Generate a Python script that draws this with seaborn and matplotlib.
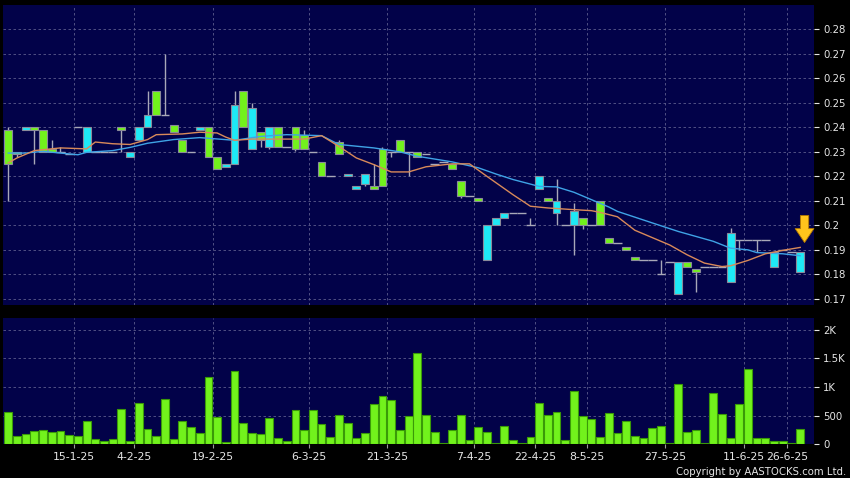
#!/usr/bin/env python3
"""Daily candlestick + volume chart, AASTOCKS style (dark navy panels)."""

import matplotlib
matplotlib.use("Agg")
import matplotlib.pyplot as plt
import numpy as np
import pandas as pd
import seaborn as sns

# ---- data (one entry per trading day, left to right) ----
OPEN = [
    0.239, 0.230, 0.239, 0.240, 0.239, 0.231, 0.230, 0.229, 0.240, 0.230,
    0.230, 0.230, 0.230, 0.240, 0.228, 0.235, 0.240, 0.255, 0.245, 0.241,
    0.235, 0.230, 0.239, 0.240, 0.228, 0.224, 0.225, 0.255, 0.231, 0.238,
    0.232, 0.240, 0.232, 0.240, 0.237, 0.230, 0.226, 0.220, 0.234, 0.220,
    0.215, 0.217, 0.216, 0.231, 0.230, 0.235, 0.230, 0.230, 0.229, 0.225,
    0.226, 0.225, 0.218, 0.212, 0.211, 0.186, 0.200, 0.203, 0.205, 0.205,
    0.200, 0.215, 0.211, 0.205, 0.200, 0.200, 0.203, 0.200, 0.210, 0.195,
    0.193, 0.191, 0.187, 0.186, 0.186, 0.180, 0.185, 0.172, 0.185, 0.182,
    0.183, 0.183, 0.183, 0.177, 0.194, 0.194, 0.194, 0.194, 0.183, 0.190,
    0.189, 0.181,
]
HIGH = [
    0.240, 0.230, 0.240, 0.240, 0.239, 0.235, 0.232, 0.229, 0.240, 0.240,
    0.230, 0.230, 0.230, 0.240, 0.230, 0.240, 0.255, 0.255, 0.270, 0.241,
    0.235, 0.230, 0.240, 0.240, 0.228, 0.225, 0.255, 0.255, 0.250, 0.238,
    0.240, 0.240, 0.232, 0.240, 0.239, 0.230, 0.226, 0.220, 0.235, 0.221,
    0.216, 0.221, 0.225, 0.232, 0.230, 0.235, 0.230, 0.230, 0.229, 0.225,
    0.226, 0.225, 0.218, 0.212, 0.211, 0.200, 0.203, 0.205, 0.205, 0.205,
    0.203, 0.220, 0.211, 0.219, 0.200, 0.209, 0.203, 0.200, 0.210, 0.195,
    0.193, 0.191, 0.187, 0.186, 0.186, 0.186, 0.185, 0.185, 0.185, 0.182,
    0.183, 0.183, 0.183, 0.199, 0.194, 0.194, 0.194, 0.194, 0.189, 0.190,
    0.189, 0.189,
]
LOW = [
    0.210, 0.228, 0.239, 0.225, 0.230, 0.230, 0.230, 0.229, 0.240, 0.230,
    0.230, 0.230, 0.230, 0.230, 0.228, 0.235, 0.240, 0.245, 0.245, 0.238,
    0.230, 0.230, 0.239, 0.228, 0.223, 0.224, 0.225, 0.240, 0.231, 0.232,
    0.231, 0.232, 0.232, 0.2305, 0.231, 0.230, 0.220, 0.220, 0.229, 0.220,
    0.215, 0.216, 0.215, 0.216, 0.228, 0.230, 0.220, 0.228, 0.229, 0.225,
    0.226, 0.223, 0.211, 0.212, 0.210, 0.186, 0.200, 0.203, 0.205, 0.205,
    0.200, 0.215, 0.210, 0.200, 0.200, 0.188, 0.1985, 0.200, 0.200, 0.193,
    0.193, 0.190, 0.186, 0.186, 0.186, 0.180, 0.185, 0.172, 0.183, 0.173,
    0.183, 0.183, 0.183, 0.177, 0.190, 0.194, 0.189, 0.194, 0.183, 0.190,
    0.189, 0.181,
]
CLOSE = [
    0.225, 0.229, 0.240, 0.239, 0.230, 0.230, 0.230, 0.229, 0.240, 0.240,
    0.230, 0.230, 0.230, 0.239, 0.230, 0.240, 0.245, 0.245, 0.245, 0.238,
    0.230, 0.230, 0.240, 0.228, 0.223, 0.225, 0.249, 0.240, 0.248, 0.235,
    0.240, 0.232, 0.232, 0.231, 0.231, 0.230, 0.220, 0.220, 0.229, 0.221,
    0.216, 0.221, 0.215, 0.216, 0.230, 0.230, 0.230, 0.228, 0.229, 0.225,
    0.226, 0.223, 0.212, 0.212, 0.210, 0.200, 0.203, 0.205, 0.205, 0.205,
    0.200, 0.220, 0.210, 0.210, 0.200, 0.206, 0.200, 0.200, 0.200, 0.193,
    0.193, 0.190, 0.186, 0.186, 0.186, 0.180, 0.185, 0.185, 0.183, 0.181,
    0.183, 0.183, 0.183, 0.197, 0.194, 0.194, 0.194, 0.194, 0.189, 0.190,
    0.189, 0.189,
]
VOLUME = [
    558, 142, 184, 225, 242, 207, 225, 166, 149, 412,
    90, 49, 84, 622, 49, 728, 272, 142, 786, 90,
    405, 307, 189, 1172, 470, 32, 1282, 370, 195, 172,
    465, 107, 61, 588, 254, 605, 353, 125, 505, 365,
    114, 195, 704, 844, 768, 247, 488, 1605, 505, 219,
    20, 247, 505, 67, 307, 207, 20, 324, 67, 20,
    131, 728, 505, 570, 67, 926, 488, 430, 125, 546,
    189, 405, 149, 107, 289, 312, 20, 1049, 207, 247,
    20, 891, 528, 107, 710, 1307, 100, 107, 61, 61,
    20, 265,
]

# moving averages, sampled off the chart at these day positions
MA10_DAY = [0, 1, 3, 6, 9, 10, 12, 14, 16, 17, 20, 22, 24, 25, 26, 28, 31, 34,
            36, 38, 40, 42, 44, 46, 48, 51, 53, 55, 58, 60, 62, 65, 67, 68, 70,
            72, 74, 76, 78, 80, 82, 83, 85, 87, 89, 91]
MA10 = [0.2255, 0.2275, 0.2305, 0.2316, 0.2312, 0.2340, 0.2333, 0.2330, 0.2350,
        0.2370, 0.2373, 0.2380, 0.2377, 0.2360, 0.2347, 0.2352, 0.2352, 0.2352,
        0.2366, 0.2322, 0.2275, 0.2248, 0.2218, 0.2218, 0.2239, 0.2251, 0.2251,
        0.2200, 0.2125, 0.2078, 0.2071, 0.2064, 0.2060, 0.2053, 0.2035, 0.1980,
        0.1950, 0.1920, 0.1880, 0.1846, 0.1832, 0.1835, 0.1857, 0.1884, 0.1898,
        0.1910]
MA20_DAY = [0, 2, 4, 6, 8, 9, 12, 14, 16, 19, 22, 26, 29, 32, 36, 38, 42, 45,
            47, 51, 54, 56, 58, 61, 63, 65, 67, 69, 70, 74, 77, 81, 83, 85, 86,
            89, 91]
MA20 = [0.2295, 0.2295, 0.2302, 0.2295, 0.2288, 0.2298, 0.2305, 0.2318, 0.2335,
        0.2350, 0.2358, 0.2347, 0.2363, 0.2370, 0.2366, 0.2330, 0.2316, 0.2300,
        0.2282, 0.2259, 0.2235, 0.2210, 0.2187, 0.2159, 0.2157, 0.2135, 0.2105,
        0.2075, 0.2057, 0.2010, 0.1975, 0.1935, 0.1907, 0.1900, 0.1889, 0.1884,
        0.1876]

DATE_LABELS = ["15-1-25", "4-2-25", "19-2-25", "6-3-25", "21-3-25", "7-4-25",
               "22-4-25", "8-5-25", "27-5-25", "11-6-25", "26-6-25"]
DATE_DAY = [7, 14, 23, 34, 43, 53, 60, 66, 75, 84, 89]

PRICE_TICKS = [0.17, 0.18, 0.19, 0.20, 0.21, 0.22, 0.23, 0.24, 0.25, 0.26, 0.27, 0.28]
VOL_TICKS = [0, 500, 1000, 1500, 2000]
VOL_LABELS = ["0", "500", "1K", "1.5K", "2K"]

# ---- styling ----
NAVY = "#020249"
UP = "#1ee9f6"
DOWN = "#72f21c"
EDGE = "#8a8a9a"
WICK = "#a8a8b8"
GRID = "#5c5c8c"
TXT = "#e6e6e6"
MA10_COLOR = "#d98a5a"
MA20_COLOR = "#3fa3e6"

plt.rcParams["font.family"] = ["DejaVu Sans"]

fig = plt.figure(figsize=(8.5, 4.78), dpi=100, facecolor="black")
ax = fig.add_axes([0.0041, 0.3619, 0.9535, 0.6276])
axv = fig.add_axes([0.0041, 0.0711, 0.9535, 0.2636])

df = pd.DataFrame({"open": OPEN, "high": HIGH, "low": LOW,
                   "close": CLOSE, "volume": VOLUME})
df["day"] = np.arange(len(df))
up = df[df.close > df.open + 1e-9]
down = df[df.close < df.open - 1e-9]
flat = df[np.isclose(df.close, df.open)]

# ---- price panel ----
ax.set_facecolor(NAVY)
ax.vlines(df.day, df.low, df.high, color=WICK, lw=1.0, zorder=2)
ax.bar(up.day, up.close - up.open, bottom=up.open, width=0.9,
       color=UP, edgecolor=EDGE, linewidth=0.8, zorder=3)
ax.bar(down.day, down.open - down.close, bottom=down.close, width=0.9,
       color=DOWN, edgecolor=EDGE, linewidth=0.8, zorder=3)
ax.hlines(flat.close, flat.day - 0.5, flat.day + 0.5, color=WICK, lw=1.0, zorder=3)

sns.lineplot(x=MA20_DAY, y=MA20, color=MA20_COLOR, lw=1.0, ax=ax, zorder=4)
sns.lineplot(x=MA10_DAY, y=MA10, color=MA10_COLOR, lw=1.0, ax=ax, zorder=5)

# signal arrow above last bar
last = df.day.iloc[-1]
ax.annotate("", xy=(last + 0.5, 0.1930), xytext=(last + 0.5, 0.2040),
            arrowprops=dict(arrowstyle="simple,head_width=1.35,head_length=1.0,tail_width=0.6",
                            fc="#ffc41c", ec="#b57a00", lw=0.6, mutation_scale=10,
                            shrinkA=0, shrinkB=0),
            zorder=6)

date_pos = [d + 0.5 for d in DATE_DAY]

ax.set_xlim(-0.55, 92.58)
ax.set_ylim(0.1675, 0.2899)
ax.set_yticks(PRICE_TICKS)
ax.set_yticklabels([f"{v:g}" for v in PRICE_TICKS])
ax.yaxis.tick_right()
ax.set_xticks(date_pos)
ax.tick_params(axis="x", length=0, labelbottom=False)
ax.tick_params(axis="y", colors=TXT, labelsize=7.3, length=3.5, width=0.8, pad=3)
ax.grid(True, color=GRID, ls=(0, (3, 3)), lw=0.6)
ax.set_axisbelow(True)
ax.set_xlabel("")
ax.set_ylabel("")
for s in ax.spines.values():
    s.set_visible(False)

# ---- volume panel ----
axv.set_facecolor(NAVY)
sns.barplot(data=df, x="day", y="volume", native_scale=True, width=0.9,
            color=DOWN, saturation=1, edgecolor="#3a9a08", linewidth=0.8,
            errorbar=None, ax=axv, zorder=3)
axv.set_xlim(-0.55, 92.58)
axv.set_ylim(0, 2210)
axv.set_yticks(VOL_TICKS)
axv.set_yticklabels(VOL_LABELS)
axv.yaxis.tick_right()
axv.set_xticks(date_pos)
axv.set_xticklabels(DATE_LABELS)
axv.tick_params(axis="x", colors=TXT, labelsize=7.8, length=3, width=0.8,
                pad=3, color="#9a9a9a")
axv.tick_params(axis="y", colors=TXT, labelsize=7.3, length=3.5, width=0.8, pad=3)
axv.grid(True, color=GRID, ls=(0, (3, 3)), lw=0.6)
axv.set_axisbelow(True)
axv.set_xlabel("")
axv.set_ylabel("")
for s in axv.spines.values():
    s.set_visible(False)

fig.text(0.995, 0.002, "Copyright by AASTOCKS.com Ltd.", color=TXT,
         fontsize=7.3, ha="right", va="bottom")

fig.savefig("out.png", dpi=100, facecolor="black")
